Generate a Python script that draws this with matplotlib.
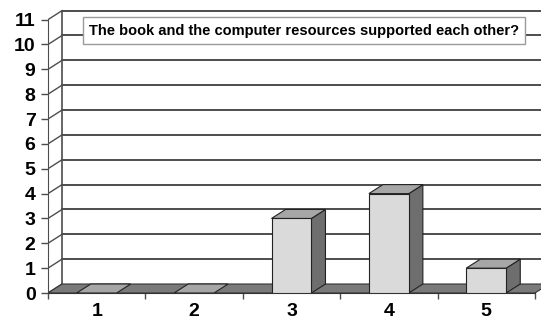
import numpy as np
import matplotlib.pyplot as plt
from matplotlib.patches import Polygon, Rectangle

plt.rcParams['font.family'] = ['Liberation Sans', 'DejaVu Sans']

# data
categories = ['1', '2', '3', '4', '5']
counts = [0, 0, 3, 4, 1]
y_ticks = list(range(0, 12))
title = 'The book and the computer resources supported each other?'

# 3-D look: depth offset of the box and bar width (data units)
DX, DY = 0.144, 0.362
BAR_W = 0.41
GRID_C = '#4d4d4d'

fig = plt.figure(figsize=(5.41, 3.23), dpi=100)
ax = fig.add_axes([48 / 541, 30 / 323, 493 / 541, 293 / 323])
n = len(categories)
ax.set_xlim(0, 5.062)
ax.set_ylim(0, 11.79)

# back wall grid lines and left wall
ymax = y_ticks[-1]
for v in y_ticks[1:]:
    ax.plot([DX, n + DX], [v + DY, v + DY], color=GRID_C, lw=1.4, zorder=1)
ax.plot([DX, DX], [DY, ymax + DY], color=GRID_C, lw=1.2, zorder=1)
for v in y_ticks:
    ax.plot([0, DX], [v, v + DY], color=GRID_C, lw=1.0, zorder=1)

# floor
ax.add_patch(Polygon([(0, 0), (n, 0), (n + DX, DY), (DX, DY)], closed=True,
                     fc='#7a7a7a', ec='#333333', lw=0.8, zorder=2))

# bars
for i, val in enumerate(counts):
    x0 = i + 0.5 - BAR_W / 2
    x1 = x0 + BAR_W
    top = [(x0, val), (x1, val), (x1 + DX, val + DY), (x0 + DX, val + DY)]
    if val > 0:
        side = [(x1, 0), (x1 + DX, DY), (x1 + DX, val + DY), (x1, val)]
        ax.add_patch(Polygon(side, closed=True, fc='#6e6e6e', ec='#222222', lw=0.8, zorder=3))
        ax.add_patch(Rectangle((x0, 0), BAR_W, val, fc='#dadada', ec='#222222', lw=0.8, zorder=3))
    ax.add_patch(Polygon(top, closed=True, fc='#a6a6a6', ec='#222222', lw=0.8, zorder=3))

# title box
ax.text(2.63, 10.56, title, ha='center', va='center', fontsize=10.5, fontweight='bold',
        zorder=5, bbox=dict(boxstyle='square,pad=0.42', fc='white', ec='#9a9a9a', lw=1))

# axes
for s in ['top', 'right']:
    ax.spines[s].set_visible(False)
ax.spines['left'].set_bounds(0, ymax)
ax.spines['bottom'].set_bounds(0, n)
ax.spines['left'].set_color(GRID_C)
ax.spines['bottom'].set_color('#333333')
ax.set_yticks(y_ticks)
ax.set_yticklabels([str(t) for t in y_ticks], fontsize=14, fontweight='bold')
ax.tick_params(axis='y', length=5, width=1, pad=4, colors=GRID_C, labelcolor='black')
ax.set_xticks(range(n + 1))
ax.set_xticklabels([])
ax.set_xticks(np.arange(n) + 0.5, minor=True)
ax.set_xticklabels(categories, minor=True, fontsize=14, fontweight='bold')
ax.tick_params(axis='x', which='major', length=4, width=1, colors=GRID_C)
ax.tick_params(axis='x', which='minor', length=0, pad=7)

fig.savefig('out.png', dpi=100)
